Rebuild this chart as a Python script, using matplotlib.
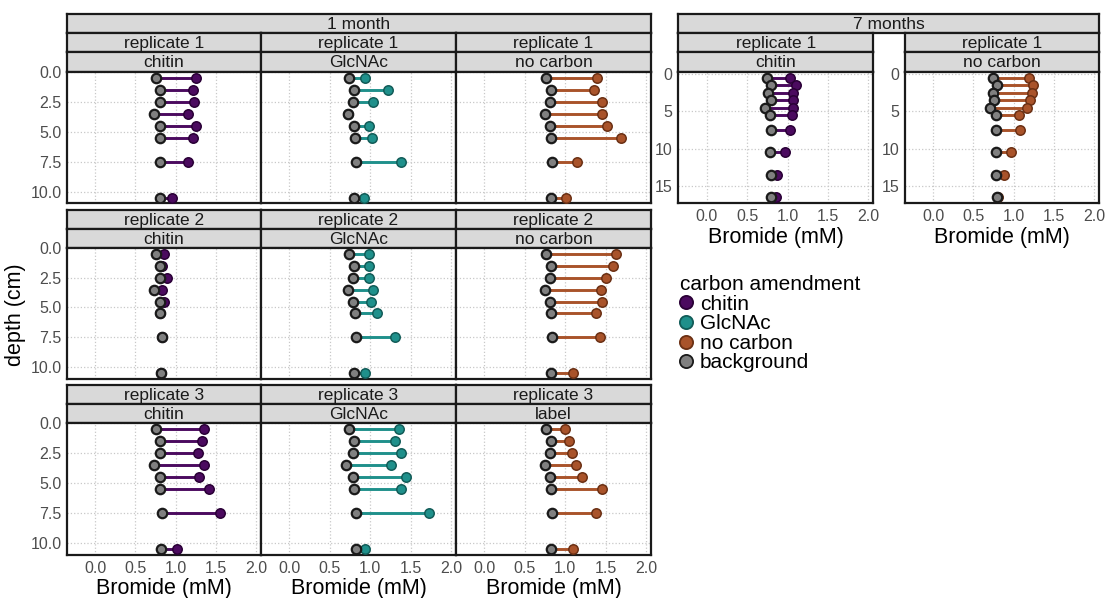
import matplotlib
matplotlib.use("Agg")
import matplotlib.pyplot as plt
from matplotlib.lines import Line2D

plt.rcParams['font.family'] = ['Liberation Sans', 'DejaVu Sans']

# ---- data (Bromide mM) ----
depth_1m = [0.5, 1.5, 2.5, 3.5, 4.5, 5.5, 7.5, 10.5]
depth_7m = [0.5, 1.5, 2.5, 3.5, 4.5, 5.5, 7.5, 10.5, 13.5, 16.5]

# 1 month, replicate 1
bg_r1_chitin = [0.75, 0.80, 0.80, 0.73, 0.80, 0.80, 0.81, 0.81]
tr_r1_chitin = [1.25, 1.22, 1.23, 1.15, 1.25, 1.22, 1.15, 0.96]
bg_r1_glcnac = [0.74, 0.80, 0.79, 0.72, 0.80, 0.81, 0.82, 0.80]
tr_r1_glcnac = [0.93, 1.22, 1.03, 0.73, 0.98, 1.02, 1.38, 0.92]
bg_r1_nocarb = [0.76, 0.82, 0.81, 0.75, 0.81, 0.82, 0.84, 0.82]
tr_r1_nocarb = [1.39, 1.35, 1.45, 1.45, 1.52, 1.69, 1.15, 1.01]
# 1 month, replicate 2
bg_r2_chitin = [0.75, 0.80, 0.80, 0.73, 0.80, 0.81, 0.83, 0.82]
tr_r2_chitin = [0.86, 0.83, 0.89, 0.83, 0.86, 0.81, 0.83, 0.82]
bg_r2_glcnac = [0.74, 0.80, 0.79, 0.72, 0.79, 0.81, 0.82, 0.80]
tr_r2_glcnac = [0.99, 0.99, 0.98, 1.04, 1.01, 1.08, 1.30, 0.93]
bg_r2_nocarb = [0.76, 0.82, 0.81, 0.75, 0.81, 0.82, 0.84, 0.82]
tr_r2_nocarb = [1.63, 1.59, 1.50, 1.44, 1.45, 1.38, 1.43, 1.10]
# 1 month, replicate 3
bg_r3_chitin = [0.75, 0.81, 0.80, 0.73, 0.80, 0.81, 0.83, 0.82]
tr_r3_chitin = [1.35, 1.33, 1.28, 1.35, 1.29, 1.42, 1.55, 1.02]
bg_r3_glcnac = [0.74, 0.80, 0.79, 0.70, 0.79, 0.80, 0.82, 0.82]
tr_r3_glcnac = [1.35, 1.30, 1.38, 1.26, 1.44, 1.38, 1.73, 0.93]
bg_r3_label = [0.76, 0.82, 0.81, 0.75, 0.81, 0.82, 0.84, 0.82]
tr_r3_label = [1.00, 1.05, 1.08, 1.13, 1.21, 1.46, 1.38, 1.10]
# 7 months, replicate 1
bg_7m_chitin = [0.75, 0.79, 0.76, 0.79, 0.72, 0.78, 0.79, 0.78, 0.79, 0.79]
tr_7m_chitin = [1.03, 1.10, 1.07, 1.07, 1.07, 1.05, 1.03, 0.97, 0.87, 0.86]
bg_7m_nocarb = [0.74, 0.79, 0.74, 0.75, 0.70, 0.78, 0.78, 0.78, 0.78, 0.79]
tr_7m_nocarb = [1.19, 1.24, 1.23, 1.20, 1.16, 1.06, 1.08, 0.97, 0.88, 0.80]

colors = {'chitin': '#4b0a5f', 'GlcNAc': '#1f908b', 'no carbon': '#a9532a',
          'background': '#808080'}
edges = {'chitin': '#2a0036', 'GlcNAc': '#125c58', 'no carbon': '#6b3014',
         'background': '#1a1a1a'}

W, H = 1107, 598
fig = plt.figure(figsize=(W / 100, H / 100), dpi=100)


def px_axes(x0, y0, x1, y1):
    return fig.add_axes([x0 / W, 1 - y1 / H, (x1 - x0) / W, (y1 - y0) / H])


def strip(x0, y0, x1, y1, text):
    ax = px_axes(x0, y0, x1, y1)
    ax.set_facecolor('#d9d9d9')
    ax.set_xticks([])
    ax.set_yticks([])
    for s in ax.spines.values():
        s.set_linewidth(1.6)
        s.set_color('#1a1a1a')
    ax.text(0.5, 0.45, text, ha='center', va='center', fontsize=12.5,
            color='#1a1a1a', transform=ax.transAxes)


def panel(x0, y0, x1, y1, depth, bg, tr, key, ylim, yticks, ylabels,
          show_y, show_x):
    ax = px_axes(x0, y0, x1, y1)
    ax.grid(True, color='#c8c8c8', linestyle=':', linewidth=0.9)
    ax.set_axisbelow(True)
    for d, b, t in zip(depth, bg, tr):
        ax.plot([b, t], [d, d], color=colors[key], lw=2.1,
                solid_capstyle='butt', zorder=2)
    ax.scatter(tr, depth, s=46, c=colors[key], edgecolors=edges[key],
               linewidths=1.1, zorder=3)
    ax.scatter(bg, depth, s=46, c=colors['background'],
               edgecolors=edges['background'], linewidths=1.6, zorder=4)
    ax.set_xlim(-0.35, 2.06)
    ax.set_ylim(*ylim)
    ax.set_xticks([0, 0.5, 1.0, 1.5, 2.0])
    ax.set_yticks(yticks)
    ax.tick_params(length=0, labelsize=11.5, labelcolor='#4d4d4d', pad=4)
    if show_x:
        ax.set_xticklabels(['0.0', '0.5', '1.0', '1.5', '2.0'])
        ax.set_xlabel('Bromide (mM)', fontsize=15.5, labelpad=2)
    else:
        ax.set_xticklabels([])
    if show_y:
        ax.set_yticklabels(ylabels)
    else:
        ax.set_yticklabels([])
    for s in ax.spines.values():
        s.set_linewidth(1.6)
        s.set_color('#1a1a1a')
    return ax


# ---- 1 month grid ----
cols_1m = [(67, 261), (261, 456), (456, 651)]
rows_1m = [(33, 52, 71.7, 203.5), (209.5, 229, 248.3, 378.5),
           (384.5, 404, 423.3, 555)]
grid_1m = [
    [('replicate 1', 'chitin', 'chitin', bg_r1_chitin, tr_r1_chitin),
     ('replicate 1', 'GlcNAc', 'GlcNAc', bg_r1_glcnac, tr_r1_glcnac),
     ('replicate 1', 'no carbon', 'no carbon', bg_r1_nocarb, tr_r1_nocarb)],
    [('replicate 2', 'chitin', 'chitin', bg_r2_chitin, tr_r2_chitin),
     ('replicate 2', 'GlcNAc', 'GlcNAc', bg_r2_glcnac, tr_r2_glcnac),
     ('replicate 2', 'no carbon', 'no carbon', bg_r2_nocarb, tr_r2_nocarb)],
    [('replicate 3', 'chitin', 'chitin', bg_r3_chitin, tr_r3_chitin),
     ('replicate 3', 'GlcNAc', 'GlcNAc', bg_r3_glcnac, tr_r3_glcnac),
     ('replicate 3', 'label', 'no carbon', bg_r3_label, tr_r3_label)],
]
yt_1m = [0, 2.5, 5, 7.5, 10]
yl_1m = ['0.0', '2.5', '5.0', '7.5', '10.0']

strip(67, 14, 651, 33, '1 month')
for r, (s0, s1, p0, p1) in enumerate(rows_1m):
    for c, (x0, x1) in enumerate(cols_1m):
        rep, sub, key, bg, tr = grid_1m[r][c]
        strip(x0, s0, x1, s1, rep)
        strip(x0, s1, x1, p0, sub)
        panel(x0, p0, x1, p1, depth_1m, bg, tr, key, (11, 0), yt_1m, yl_1m,
              show_y=(c == 0), show_x=(r == 2))

# ---- 7 months ----
yt_7m = [0, 5, 10, 15]
yl_7m = ['0', '5', '10', '15']
strip(678.3, 14, 1099, 33, '7 months')
panels_7m = [((678.3, 873.3), 'chitin', 'chitin', bg_7m_chitin, tr_7m_chitin),
             ((905, 1099), 'no carbon', 'no carbon', bg_7m_nocarb, tr_7m_nocarb)]
for (x0, x1), sub, key, bg, tr in panels_7m:
    strip(x0, 33, x1, 52, 'replicate 1')
    strip(x0, 52, x1, 71.7, sub)
    panel(x0, 71.7, x1, 203.3, depth_7m, bg, tr, key, (17.3, -0.3),
          yt_7m, yl_7m, show_y=True, show_x=True)

fig.text(15 / W, 1 - 315 / H, 'depth (cm)', rotation=90, ha='center',
         va='center', fontsize=15.5)

# ---- legend ----
leg_keys = ['chitin', 'GlcNAc', 'no carbon', 'background']
handles = [Line2D([], [], marker='o', linestyle='none', markersize=9.5,
                  markerfacecolor=colors[k], markeredgecolor=edges[k],
                  markeredgewidth=1.3) for k in leg_keys]
fig.legend(handles, leg_keys, title='carbon amendment', loc='upper left',
           bbox_to_anchor=(680 / W, 1 - 275 / H), frameon=False, fontsize=15,
           title_fontsize=15, handlelength=0.6, handletextpad=0.35,
           labelspacing=0.03, borderaxespad=0, borderpad=0, alignment='left')

fig.savefig('out.png', dpi=100)
